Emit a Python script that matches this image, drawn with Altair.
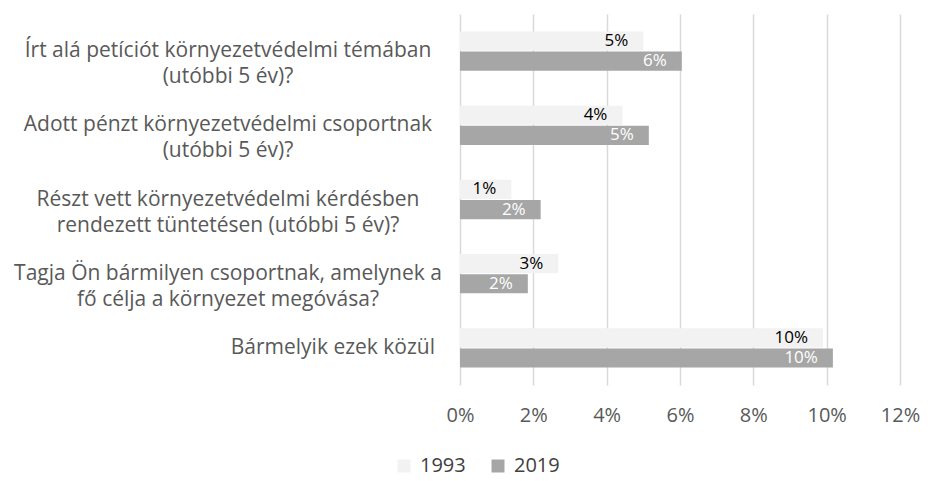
import altair as alt
import pandas as pd

categories = [
    "Írt alá petíciót környezetvédelmi témában\n(utóbbi 5 év)?",
    "Adott pénzt környezetvédelmi csoportnak\n(utóbbi 5 év)?",
    "Részt vett környezetvédelmi kérdésben\nrendezett tüntetésen (utóbbi 5 év)?",
    "Tagja Ön bármilyen csoportnak, amelynek a\nfő célja a környezet megóvása?",
    "Bármelyik ezek közül",
]
years = ["1993", "2019"]
values_1993 = [5.0, 4.43, 1.40, 2.68, 9.9]
values_2019 = [6.05, 5.15, 2.2, 1.85, 10.17]
x_ticks = [0, 2, 4, 6, 8, 10, 12]

rows = []
for c, a, b in zip(categories, values_1993, values_2019):
    rows.append({"cat": c, "year": "1993", "v": a})
    rows.append({"cat": c, "year": "2019", "v": b})
df = pd.DataFrame(rows)
cat_df = pd.DataFrame({"cat": categories})

FONT = "Open Sans"

y_enc = alt.Y("cat:N", sort=categories, axis=None,
              scale=alt.Scale(paddingInner=0.47, paddingOuter=0.235))
yoff = alt.YOffset("year:N", sort=years, scale=alt.Scale(paddingInner=0.05))

bars = alt.Chart(df).mark_bar().encode(
    x=alt.X("v:Q", scale=alt.Scale(domain=[0, 12], nice=False),
            axis=alt.Axis(values=x_ticks, labelExpr="datum.value + '%'", title=None,
                          domain=False, ticks=False, grid=True, gridColor="#d9d9d9",
                          gridWidth=1.5, labelColor="#595959", labelFontSize=20,
                          labelFont=FONT, labelPadding=20, labelFlush=False,
                          labelOverlap=False)),
    y=y_enc,
    yOffset=yoff,
    color=alt.Color("year:N", sort=years,
                    scale=alt.Scale(domain=years, range=["#f2f2f2", "#a6a6a6"]),
                    legend=alt.Legend(title=None, orient="none", direction="horizontal",
                                      legendX=-66, legendY=442, symbolType="square",
                                      symbolSize=169, symbolStrokeWidth=0,
                                      labelFontSize=20, labelFont=FONT,
                                      labelColor="#404040", columnPadding=22,
                                      labelOffset=6)),
)

labels = alt.Chart(df).transform_calculate(
    lab="format(datum.v/100, '.0%')"
).mark_text(align="right", dx=-15, fontSize=17, font=FONT).encode(
    x="v:Q",
    y=y_enc,
    yOffset=yoff,
    text="lab:N",
    color=alt.condition(alt.datum.year == "1993", alt.value("#000000"), alt.value("#ffffff")),
)

multi = alt.Chart(cat_df).transform_filter(
    "indexof(datum.cat, '\\n') >= 0"
).mark_text(align="center", baseline="middle", lineBreak="\n", lineHeight=26,
            fontSize=21, font=FONT, color="#595959").encode(
    x=alt.value(-232), y=alt.Y("cat:N", sort=categories, axis=None), text="cat:N"
)
single = alt.Chart(cat_df).transform_filter(
    "indexof(datum.cat, '\\n') < 0"
).mark_text(align="right", baseline="middle", fontSize=21, font=FONT,
            color="#595959").encode(
    x=alt.value(-25), y=alt.Y("cat:N", sort=categories, axis=None), text="cat:N"
)

chart = alt.layer(bars, labels, multi, single).properties(
    width=440, height=371,
    autosize=alt.AutoSizeParams(type="none"),
    padding={"left": 452, "top": 6, "right": 20, "bottom": 96},
).configure_view(stroke=None)

chart.save("out.html", embed_options={"renderer": "svg", "actions": False})
